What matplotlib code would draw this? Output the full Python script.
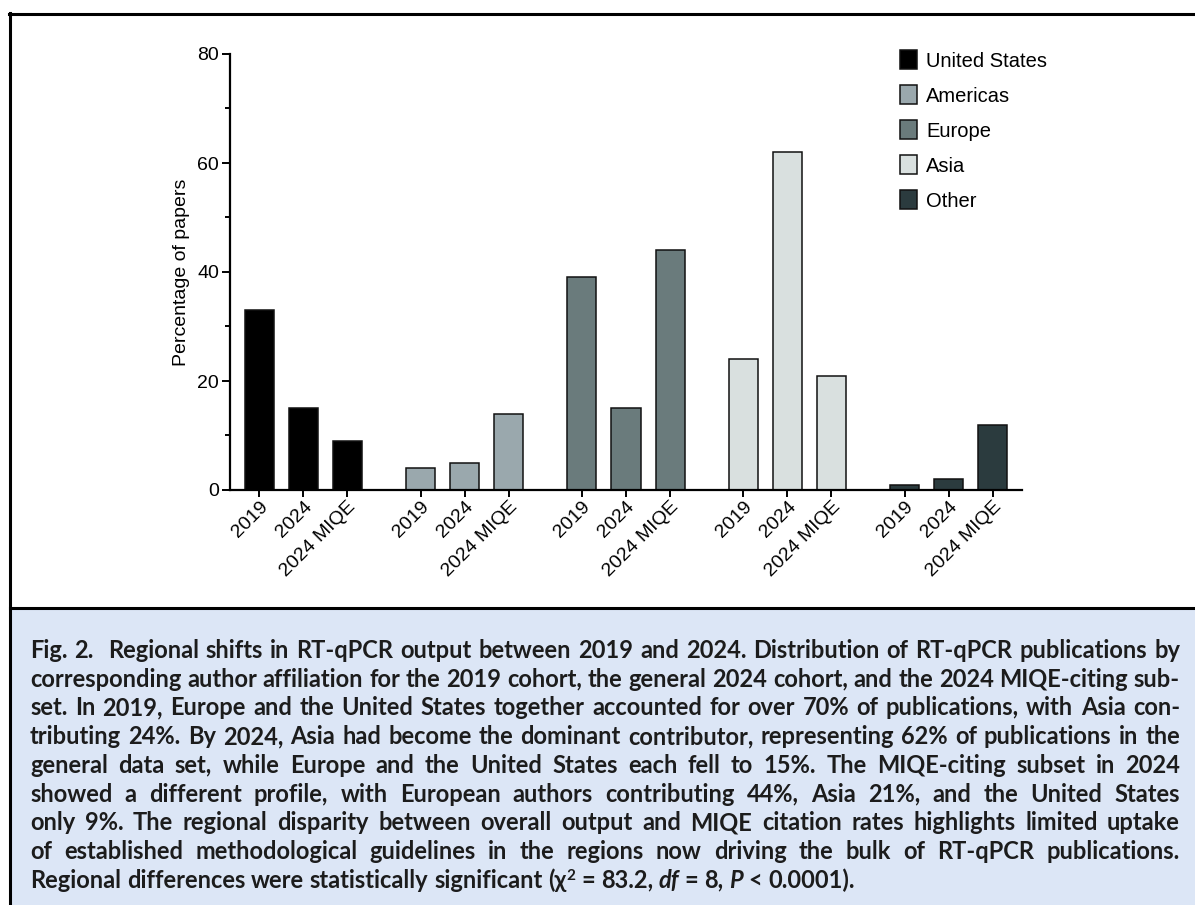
import matplotlib
matplotlib.use("Agg")
import matplotlib.pyplot as plt
import numpy as np
from matplotlib.lines import Line2D
from matplotlib.patches import Rectangle

# share of papers (%) by corresponding author region, per cohort
regions = ["United States", "Americas", "Europe", "Asia", "Other"]
cohorts = ["2019", "2024", "2024 MIQE"]
us = [33, 15, 9]
americas = [4, 5, 14]
europe = [39, 15, 44]
asia = [24, 62, 21]
other = [1, 2, 12]
colors = ["#000000", "#9aa8ad", "#6a7b7c", "#d9e0df", "#2b3b3e"]

caption_lines = [
    "Fig. 2.  Regional shifts in RT-qPCR output between 2019 and 2024. Distribution of RT-qPCR publications by",
    "corresponding author affiliation for the 2019 cohort, the general 2024 cohort, and the 2024 MIQE-citing sub-",
    "set. In 2019, Europe and the United States together accounted for over 70% of publications, with Asia con-",
    "tributing 24%. By 2024, Asia had become the dominant contributor, representing 62% of publications in the",
    "general data set, while Europe and the United States each fell to 15%. The MIQE-citing subset in 2024",
    "showed a different profile, with European authors contributing 44%, Asia 21%, and the United States",
    "only 9%. The regional disparity between overall output and MIQE citation rates highlights limited uptake",
    "of established methodological guidelines in the regions now driving the bulk of RT-qPCR publications.",
]

W, H = 1195, 905
plt.rcParams["font.family"] = ["Liberation Sans", "DejaVu Sans"]
fig = plt.figure(figsize=(W / 100, H / 100), dpi=100)

# ---- bar chart ----
ax = fig.add_axes([230 / W, 1 - 490 / H, (1022 - 230) / W, (490 - 54) / H])
group_step = 3.66
positions = []
for g, (name, vals, c) in enumerate(zip(regions, [us, americas, europe, asia, other], colors)):
    x = g * group_step + np.arange(len(cohorts))
    positions.extend(x)
    ax.bar(x, vals, width=0.66, color=c, edgecolor="#111111", linewidth=1.1, label=name)

ax.set_xlim(-0.66, positions[-1] + 0.66)
ax.set_ylim(0, 80)
ax.set_yticks([0, 20, 40, 60, 80])
ax.set_yticks([10, 30, 50, 70], minor=True)
ax.set_xticks(positions)
ax.set_xticklabels(cohorts * len(regions), rotation=45, ha="right", rotation_mode="anchor")
ax.tick_params(axis="both", labelsize=14, width=1.4, color="black")
ax.tick_params(axis="y", which="major", length=6, pad=2)
ax.tick_params(axis="y", which="minor", length=3.5, width=1.4)
ax.tick_params(axis="x", length=5, pad=1)
for s in ["top", "right"]:
    ax.spines[s].set_visible(False)
for s in ["left", "bottom"]:
    ax.spines[s].set_linewidth(1.6)
ax.set_ylabel("Percentage of papers", fontsize=14, labelpad=5)

ax.legend(loc="upper left", bbox_to_anchor=(900 / W, 1 - 50 / H), bbox_transform=fig.transFigure,
          frameon=False, fontsize=14.5, handlelength=0.85, handleheight=1.1, handletextpad=0.45,
          labelspacing=0.72, borderpad=0, borderaxespad=0)

# ---- figure frame and caption panel ----
fig.add_artist(Rectangle((11.5 / W, 0), 1, (905 - 609.5) / H, transform=fig.transFigure,
                         facecolor="#dce6f6", edgecolor="none", zorder=0))
fig.add_artist(Line2D([10 / W, 10 / W], [0, 1 - 13 / H], transform=fig.transFigure, color="black", lw=2.2))
fig.add_artist(Line2D([9 / W, 1], [1 - 14 / H, 1 - 14 / H], transform=fig.transFigure, color="black", lw=2.2))
fig.add_artist(Line2D([10 / W, 1], [1 - 608 / H, 1 - 608 / H], transform=fig.transFigure, color="black", lw=2.2))

renderer = fig.canvas.get_renderer()
cap_kw = dict(family=["Lato", "DejaVu Sans"], weight="bold", fontsize=17, color="#1c1c1c")
text_left, text_right = 30, 1180
first_baseline, line_step = 658, 28.7


def width_px(s, **kw):
    if not s:
        return 0.0
    t = fig.text(0, 0, s, **{**cap_kw, **kw})
    w = t.get_window_extent(renderer).width
    t.remove()
    return w


space = width_px("a a") - width_px("aa")


def put_line(words, y, justify):
    # words: list of words, each a list of (text, style, raise_px) pieces
    widths = [sum(width_px(t, **kw) for t, kw, dy in w) for w in words]
    gap = space
    if justify and len(words) > 1:
        gap = (text_right - text_left - sum(widths)) / (len(words) - 1)
    x = text_left
    for w, wd in zip(words, widths):
        for t, kw, dy in w:
            if t:
                fig.text(x / W, 1 - (y - dy) / H, t, ha="left", va="baseline", **{**cap_kw, **kw})
            x += width_px(t, **kw)
        x += gap


for i, line in enumerate(caption_lines):
    words = [[(w, {}, 0)] for w in line.split(" ")]
    put_line(words, first_baseline + i * line_step, True)

ital = {"style": "italic"}
last = [[(w, {}, 0)] for w in "Regional differences were statistically significant".split(" ")]
last += [
    [("(\u03c7", {}, 0), ("2", {"fontsize": 11}, 8)],
    [("=", {}, 0)], [("83.2,", {}, 0)],
    [("df", ital, 0)], [("=", {}, 0)], [("8,", {}, 0)],
    [("P", ital, 0)], [("<", {}, 0)], [("0.0001).", {}, 0)],
]
put_line(last, first_baseline + 8 * line_step, False)

fig.savefig("out.png", dpi=100)
